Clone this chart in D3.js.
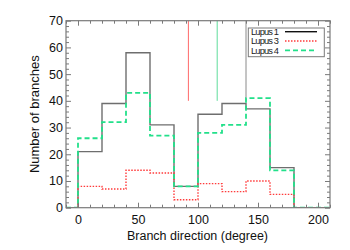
<!DOCTYPE html>
<html><head><meta charset="utf-8">
<script src="https://cdn.jsdelivr.net/npm/d3@7"></script>
<style>body{margin:0;background:#fff}svg{display:block}</style>
</head><body><svg id="c" width="350" height="250"></svg>
<script>
const binStarts = [0, 20, 40, 60, 80, 100, 120, 140, 160];
const binWidth = 20;
const lupus1 = [21, 39, 58, 31, 8, 35, 39, 37, 15];
const lupus3 = [8, 7, 14, 13, 3, 9, 6, 10, 5];
const lupus4 = [26, 32, 43, 27, 8, 28, 31, 41, 14];
const seriesNames = ["Lupus 1", "Lupus 3", "Lupus 4"];
const meanDirections = [140, 92, 116]; // Lupus 1, Lupus 3, Lupus 4
const markerRange = [40, 80];
const xMajorTicks = [0, 50, 100, 150, 200];
const yMajorTicks = [0, 10, 20, 30, 40, 50, 60, 70];
const xLabel = "Branch direction (degree)";
const yLabel = "Number of branches";

const L = 66, R = 330, T = 20.7, B = 207.7;
const svg = d3.select("#c");
const x = d3.scaleLinear().domain([-10, 210]).range([L, R]);
const y = d3.scaleLinear().domain([0, 70]).range([B, T]);
const axisColor = "#7a7a7a";
const colors = ["#6e6e6e", "#ff3b3b", "#22e08a"];
const legendColors = ["#111", "#ff3b3b", "#22e08a"];
const dashes = [null, "1.5,1.5", "5,3"];
const widths = [1.4, 1.4, 1.8];

svg.append("defs").append("clipPath").attr("id", "clip")
  .append("rect").attr("x", L).attr("y", T).attr("width", R - L).attr("height", B - T);

// marker lines
const markerCols = ["#8a8a8a", "#ff6a6a", "#5fdc9c"];
const g = svg.append("g").attr("clip-path", "url(#clip)");
meanDirections.forEach((m, i) => {
  g.append("line").attr("x1", x(m)).attr("x2", x(m))
    .attr("y1", y(markerRange[0])).attr("y2", y(markerRange[1]))
    .attr("stroke", markerCols[i]).attr("stroke-width", 1);
});

// histograms
const line = d3.line().x(d => x(d[0])).y(d => y(d[1])).curve(d3.curveStepAfter);
[lupus1, lupus3, lupus4].forEach((vals, i) => {
  const pts = [[-10, 0]];
  binStarts.forEach((b, j) => pts.push([b, vals[j]]));
  pts.push([binStarts[binStarts.length - 1] + binWidth, 0]);
  pts.push([210, 0]);
  g.append("path").attr("d", line(pts)).attr("fill", "none")
    .attr("stroke", colors[i]).attr("stroke-width", widths[i])
    .attr("stroke-dasharray", dashes[i]);
});

// axes
const font = "Liberation Sans, Arial, sans-serif";
function styleAxis(sel) {
  sel.select(".domain").remove();
  sel.selectAll("line").attr("stroke", axisColor);
  sel.selectAll("text").attr("font-family", font).attr("font-size", 12.5).attr("fill", "#111");
}
const xMinor = d3.range(-10, 211, 10).filter(v => !xMajorTicks.includes(v));
const yMinor = d3.range(0, 71, 2).filter(v => !yMajorTicks.includes(v));

svg.append("g").attr("transform", `translate(0,${B})`)
  .call(d3.axisBottom(x).tickValues(xMajorTicks).tickSize(-5).tickPadding(7.4).tickFormat(d3.format("d"))).call(styleAxis);
svg.append("g").attr("transform", `translate(0,${B})`)
  .call(d3.axisBottom(x).tickValues(xMinor).tickSize(-3).tickFormat("")).call(styleAxis);
svg.append("g").attr("transform", `translate(0,${T})`)
  .call(d3.axisTop(x).tickValues(xMajorTicks).tickSize(-5).tickFormat("")).call(styleAxis);
svg.append("g").attr("transform", `translate(0,${T})`)
  .call(d3.axisTop(x).tickValues(xMinor).tickSize(-3).tickFormat("")).call(styleAxis);
svg.append("g").attr("transform", `translate(${L},0)`)
  .call(d3.axisLeft(y).tickValues(yMajorTicks).tickSize(-5).tickPadding(3).tickFormat(d3.format("d"))).call(styleAxis);
svg.append("g").attr("transform", `translate(${L},0)`)
  .call(d3.axisLeft(y).tickValues(yMinor).tickSize(-3).tickFormat("")).call(styleAxis);
svg.append("g").attr("transform", `translate(${R},0)`)
  .call(d3.axisRight(y).tickValues(yMajorTicks).tickSize(-5).tickFormat("")).call(styleAxis);
svg.append("g").attr("transform", `translate(${R},0)`)
  .call(d3.axisRight(y).tickValues(yMinor).tickSize(-3).tickFormat("")).call(styleAxis);

svg.append("rect").attr("x", L).attr("y", T).attr("width", R - L).attr("height", B - T)
  .attr("fill", "none").attr("stroke", axisColor).attr("stroke-width", 1.2);

// axis labels
svg.append("text").attr("x", (L + R) / 2 - 0.5).attr("y", 239.5).attr("text-anchor", "middle")
  .attr("font-family", font).attr("font-size", 12.5).attr("fill", "#111").text(xLabel);
svg.append("text").attr("transform", `translate(39,${(T + B) / 2}) rotate(-90)`).attr("text-anchor", "middle")
  .attr("font-family", font).attr("font-size", 13).attr("fill", "#111").text(yLabel);

// legend
const lg = svg.append("g");
lg.append("rect").attr("x", 248.3).attr("y", 28).attr("width", 76).attr("height", 28.7)
  .attr("fill", "#fff").attr("stroke", axisColor).attr("stroke-width", 1);
seriesNames.forEach((n, i) => {
  const cy = 31.7 + i * 9.3;
  lg.append("text").attr("x", 251).attr("y", cy + 3.3).attr("font-family", font)
    .attr("font-size", 9.3).attr("fill", "#222").attr("textLength", 28).text(n);
  lg.append("line").attr("x1", 285).attr("x2", 317).attr("y1", cy).attr("y2", cy)
    .attr("stroke", legendColors[i]).attr("stroke-width", widths[i]).attr("stroke-dasharray", dashes[i]);
});
</script></body></html>
